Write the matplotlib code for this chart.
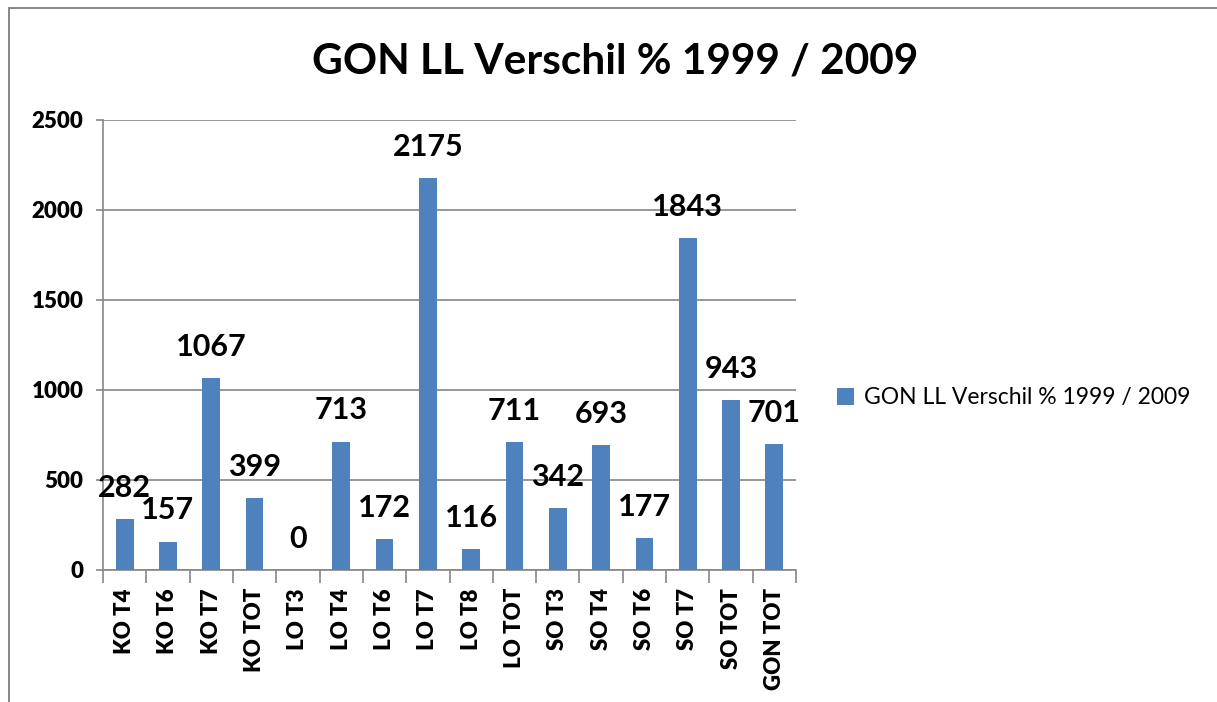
import matplotlib.pyplot as plt
import numpy as np
from matplotlib.lines import Line2D

# Daten
categories = ['KO T4', 'KO T6', 'KO T7', 'KO TOT', 'LO T3', 'LO T4', 'LO T6', 'LO T7',
              'LO T8', 'LO TOT', 'SO T3', 'SO T4', 'SO T6', 'SO T7', 'SO TOT', 'GON TOT']
values = [282, 157, 1067, 399, 0, 713, 172, 2175, 116, 711, 342, 693, 177, 1843, 943, 701]
y_ticks = [0, 500, 1000, 1500, 2000, 2500]
series_name = 'GON LL Verschil % 1999 / 2009'

plt.rcParams['font.family'] = ['Lato', 'DejaVu Sans']

fig = plt.figure(figsize=(12.17, 7.02), dpi=100)
ax = fig.add_axes([103 / 1217, 1 - 570 / 702, (796 - 103) / 1217, (570 - 120) / 702])

x = np.arange(len(categories))
bars = ax.bar(x, values, width=0.41, color='#4F81BD', label=series_name, zorder=3)

# Datenbeschriftungen
for xi, v in zip(x, values):
    ax.annotate(str(v), (xi, v), xytext=(0, 22.5), textcoords='offset points',
                ha='center', va='center', fontsize=22, fontweight='bold')

ax.set_xlim(-0.5, len(categories) - 0.5)
ax.set_ylim(0, 2500)
ax.yaxis.grid(True, color='#868686', linewidth=1.2, zorder=0)
ax.tick_params(axis='y', length=5, color='#868686', width=1.2, pad=9)
ax.tick_params(axis='x', which='major', length=0, pad=13)
ax.tick_params(axis='x', which='minor', length=9, color='#868686', width=1.2)

ax.set_yticks(y_ticks)
ax.set_yticklabels([str(t) for t in y_ticks], fontsize=16, fontweight='heavy')
ax.set_xticks(x)
ax.set_xticklabels(categories, rotation=90, fontsize=16, fontweight='heavy')
ax.set_xticks(np.arange(-0.5, len(categories), 1), minor=True)

for s in ['top', 'right']:
    ax.spines[s].set_visible(False)
for s in ['left', 'bottom']:
    ax.spines[s].set_color('#868686')
    ax.spines[s].set_linewidth(1.2)

fig.text(615 / 1217, 1 - 62 / 702, series_name, ha='center', va='center',
         fontsize=30.5, fontweight='bold')

ax.legend(loc='center left', bbox_to_anchor=(816 / 1217, 1 - 398 / 702),
          bbox_transform=fig.transFigure, frameon=False,
          prop={'size': 16.5, 'weight': 'normal'},
          handlelength=0.75, handleheight=0.75, handletextpad=0.45)

# Rahmen
fig.add_artist(Line2D([9 / 1217, 1], [1 - 8 / 702] * 2, color='#868686', linewidth=1.4))
fig.add_artist(Line2D([9 / 1217] * 2, [0, 1 - 8 / 702], color='#868686', linewidth=1.4))

fig.savefig('out.png', dpi=100)
